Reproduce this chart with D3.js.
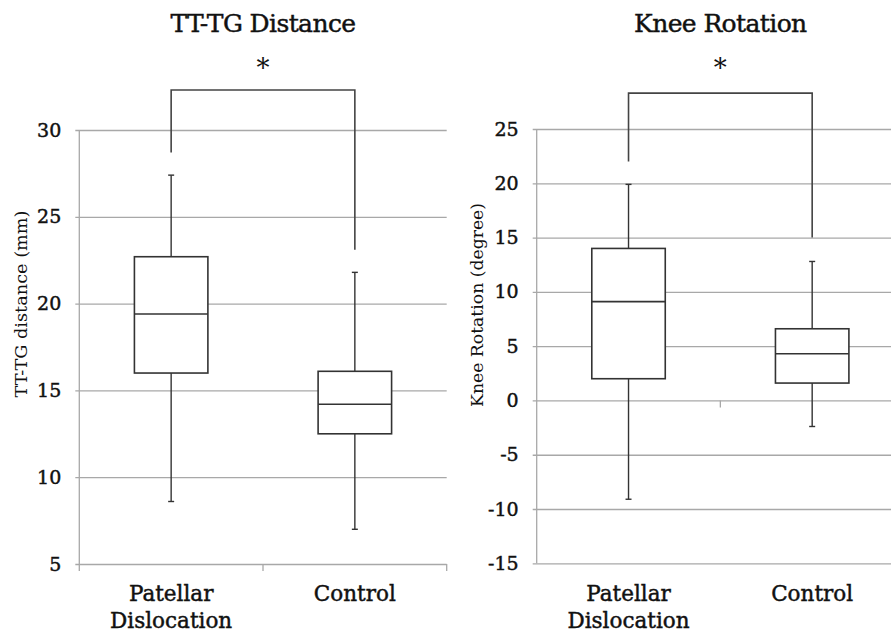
<!DOCTYPE html>
<html lang="en">
<head>
    <meta charset="UTF-8">
    <title>TT-TG distance and knee rotation</title>
    <script src="https://cdn.jsdelivr.net/npm/d3@7/dist/d3.min.js"></script>
    <style>
        body { margin: 0; background: #fff; }
        text { font-family: "DejaVu Serif", serif; fill: #111; }
        .heavy { stroke: #111; stroke-width: 0.45px; }
    </style>
</head>
<body>
    <script>
        // width and height
        var w = 891;
        var h = 634;

        // categories
        var groups = ["Patellar Dislocation", "Control"];

        // TT-TG distance (mm): whisker low, Q1, median, Q3, whisker high
        var ttMin = [8.6, 7.0];
        var ttQ1 = [16.0, 12.5];
        var ttMed = [19.4, 14.2];
        var ttQ3 = [22.7, 16.1];
        var ttMax = [27.4, 21.8];
        var ttTicks = [5, 10, 15, 20, 25, 30];
        // significance bracket: left leg end, top, right leg end
        var ttBracket = [28.7, 32.3, 23.1];

        // Knee rotation (degree)
        var rotMin = [-9.1, -2.4];
        var rotQ1 = [2.0, 1.6];
        var rotMed = [9.1, 4.3];
        var rotQ3 = [14.0, 6.6];
        var rotMax = [19.9, 12.8];
        var rotTicks = [-15, -10, -5, 0, 5, 10, 15, 20, 25];
        var rotBracket = [22.0, 28.3, 15.0];

        var gridColor = "#a8a8a8";
        var boxColor = "#333";

        var svg = d3.select("body")
                    .append("svg")
                    .attr("width", w)
                    .attr("height", h);

        function drawPanel(p) {
            var g = svg.append("g");

            var x = d3.scaleBand()
                      .domain(groups)
                      .range([p.x0, p.x1])
                      .paddingInner(0)
                      .paddingOuter(0);

            var y = d3.scaleLinear()
                      .domain([p.ticks[0], p.ticks[p.ticks.length - 1]])
                      .range([p.y0, p.y1]);

            // gridlines + tick labels via axis
            var yAxis = d3.axisLeft(y)
                          .tickValues(p.ticks)
                          .tickFormat(function(d) { return String(d); })
                          .tickSize(-(p.x1 - p.x0) - 4)
                          .tickSizeOuter(0)
                          .tickPadding(14);

            var ag = g.append("g")
                      .attr("transform", "translate(" + (p.x0 - 4) + ",0)")
                      .call(yAxis);
            ag.select(".domain").remove();
            ag.selectAll(".tick line")
              .attr("x1", 0)
              .attr("x2", p.x1 - p.x0 + 4)
              .attr("stroke", gridColor)
              .attr("stroke-width", 1.3);
            ag.selectAll(".tick text")
              .attr("class", "heavy")
              .attr("font-size", "19px")
              .attr("font-family", "DejaVu Serif")
              .attr("fill", "#111");

            // vertical value axis line
            g.append("line")
             .attr("x1", p.x0).attr("x2", p.x0)
             .attr("y1", y(p.ticks[p.ticks.length - 1]))
             .attr("y2", y(p.ticks[0]) + (p.crossAt === p.ticks[0] ? 7 : 0))
             .attr("stroke", gridColor)
             .attr("stroke-width", 1.3);

            // category axis ticks between groups
            var edges = [x(groups[1])];
            if (p.crossAt === p.ticks[0]) edges.push(p.x1);
            g.selectAll("line.ctick")
             .data(edges)
             .enter()
             .append("line")
             .attr("class", "ctick")
             .attr("x1", function(d) { return d; })
             .attr("x2", function(d) { return d; })
             .attr("y1", y(p.crossAt))
             .attr("y2", y(p.crossAt) + 7)
             .attr("stroke", gridColor)
             .attr("stroke-width", 1.3);

            // boxes
            var bw = x.bandwidth() * 0.4;
            var boxes = g.selectAll("g.box")
                         .data(groups)
                         .enter()
                         .append("g")
                         .attr("class", "box");

            // whiskers
            boxes.append("line")
                 .attr("x1", function(d) { return x(d) + x.bandwidth() / 2; })
                 .attr("x2", function(d) { return x(d) + x.bandwidth() / 2; })
                 .attr("y1", function(d, i) { return y(p.max[i]); })
                 .attr("y2", function(d, i) { return y(p.min[i]); })
                 .attr("stroke", boxColor)
                 .attr("stroke-width", 1.4);

            // whisker caps
            [p.min, p.max].forEach(function(arr) {
                boxes.append("line")
                     .attr("x1", function(d) { return x(d) + x.bandwidth() / 2 - 3; })
                     .attr("x2", function(d) { return x(d) + x.bandwidth() / 2 + 3; })
                     .attr("y1", function(d, i) { return y(arr[i]); })
                     .attr("y2", function(d, i) { return y(arr[i]); })
                     .attr("stroke", boxColor)
                     .attr("stroke-width", 1.4);
            });

            boxes.append("rect")
                 .attr("x", function(d) { return x(d) + (x.bandwidth() - bw) / 2; })
                 .attr("width", bw)
                 .attr("y", function(d, i) { return y(p.q3[i]); })
                 .attr("height", function(d, i) { return y(p.q1[i]) - y(p.q3[i]); })
                 .attr("fill", "#fff")
                 .attr("stroke", boxColor)
                 .attr("stroke-width", 1.6);

            boxes.append("line")
                 .attr("x1", function(d) { return x(d) + (x.bandwidth() - bw) / 2; })
                 .attr("x2", function(d) { return x(d) + (x.bandwidth() + bw) / 2; })
                 .attr("y1", function(d, i) { return y(p.med[i]); })
                 .attr("y2", function(d, i) { return y(p.med[i]); })
                 .attr("stroke", boxColor)
                 .attr("stroke-width", 1.6);

            // significance bracket
            var cx0 = x(groups[0]) + x.bandwidth() / 2;
            var cx1 = x(groups[1]) + x.bandwidth() / 2;
            g.append("path")
             .attr("d", d3.line()([
                 [cx0, y(p.bracket[0])],
                 [cx0, y(p.bracket[1])],
                 [cx1, y(p.bracket[1])],
                 [cx1, y(p.bracket[2])]
             ]))
             .attr("fill", "none")
             .attr("stroke", "#444")
             .attr("stroke-width", 1.6);

            g.append("text")
             .attr("x", (cx0 + cx1) / 2)
             .attr("y", 77)
             .attr("text-anchor", "middle")
             .attr("font-size", "26px")
             .text("*");

            // title
            g.append("text")
             .attr("class", "heavy")
             .attr("x", (cx0 + cx1) / 2)
             .attr("y", 32)
             .attr("text-anchor", "middle")
             .attr("font-size", "25px")
             .attr("letter-spacing", "-0.6px")
             .text(p.title);

            // category labels
            var labels = g.selectAll("text.cat")
                          .data(groups)
                          .enter()
                          .append("text")
                          .attr("class", "cat heavy")
                          .attr("text-anchor", "middle")
                          .attr("font-size", "21.5px")
                          .attr("x", function(d) { return x(d) + x.bandwidth() / 2; })
                          .attr("y", 601);
            labels.each(function(d) {
                var words = d.split(" ");
                var t = d3.select(this);
                words.forEach(function(wd, k) {
                    t.append("tspan")
                     .attr("x", t.attr("x"))
                     .attr("dy", k === 0 ? 0 : 27)
                     .text(wd);
                });
            });

            // y axis title
            g.append("text")
             .attr("transform", "translate(" + p.labelX + "," + p.labelY + ") rotate(-90)")
             .attr("text-anchor", "middle")
             .attr("font-size", "16.5px")
             .attr("textLength", p.labelLen)
             .attr("lengthAdjust", "spacingAndGlyphs")
             .text(p.ylabel);
        }

        drawPanel({
            title: "TT-TG Distance",
            ylabel: "TT-TG distance (mm)",
            x0: 79.3, x1: 446.7,
            y0: 564, y1: 130,
            ticks: ttTicks,
            crossAt: 5,
            min: ttMin, q1: ttQ1, med: ttMed, q3: ttQ3, max: ttMax,
            bracket: ttBracket,
            labelX: 27, labelY: 304, labelLen: 187
        });

        drawPanel({
            title: "Knee Rotation",
            ylabel: "Knee Rotation  (degree)",
            x0: 536.7, x1: 904,
            y0: 563.3, y1: 129,
            ticks: rotTicks,
            crossAt: 0,
            min: rotMin, q1: rotQ1, med: rotMed, q3: rotQ3, max: rotMax,
            bracket: rotBracket,
            labelX: 483, labelY: 305, labelLen: 204
        });
    </script>
</body>
</html>
